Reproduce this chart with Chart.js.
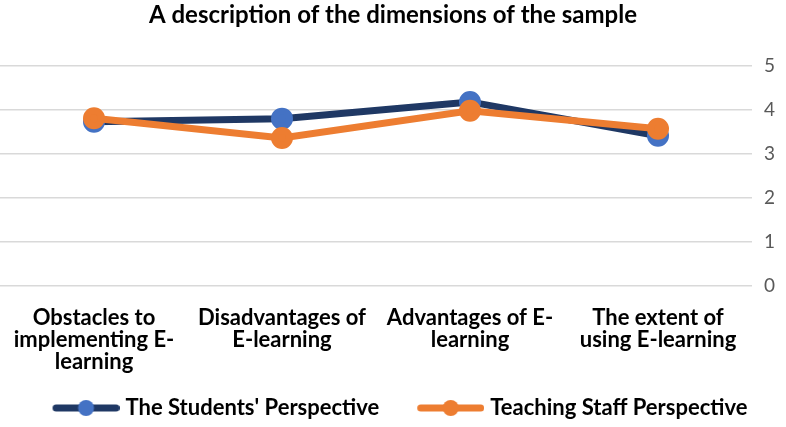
<!DOCTYPE html>
<html>
<head>
<meta charset="utf-8">
<script src="https://cdn.jsdelivr.net/npm/chart.js@4/dist/chart.umd.min.js"></script>
<style>
    html, body { margin: 0; padding: 0; background: #fff; }
    #wrap { width: 786px; height: 427px; position: relative; }
</style>
</head>
<body>
<div id="wrap"><canvas id="chart"></canvas></div>
<script>
// Data
const categories = [
    ['Obstacles to', 'implementing E-', 'learning'],
    ['Disadvantages of', 'E-learning'],
    ['Advantages of E-', 'learning'],
    ['The extent of', 'using E-learning']
];
const studentsValues = [3.73, 3.8, 4.18, 3.41];
const staffValues = [3.81, 3.36, 3.98, 3.57];
const yTicks = [0, 1, 2, 3, 4, 5];

const NAVY = '#1f3864';
const BLUE = '#4472c4';
const ORANGE = '#ed7d31';

// legend marker: thick line with a dot in the middle (blank lead-in keeps the items apart)
const MARK_W = 76;
function legendMarker(lineColor, dotColor) {
    const c = document.createElement('canvas');
    c.width = MARK_W + 10; c.height = 18;
    const g = c.getContext('2d');
    g.strokeStyle = lineColor;
    g.lineWidth = 7;
    g.lineCap = 'round';
    g.beginPath();
    g.moveTo(19 + 3.5, 9);
    g.lineTo(MARK_W + 10 - 3.5, 9);
    g.stroke();
    g.fillStyle = dotColor;
    g.beginPath();
    g.arc((19 + MARK_W + 10) / 2, 9, 8, 0, Math.PI * 2);
    g.fill();
    return c;
}
const markers = [legendMarker(NAVY, BLUE), legendMarker(ORANGE, ORANGE)];

const ctx = document.getElementById('chart').getContext('2d');
new Chart(ctx, {
    type: 'line',
    data: {
        labels: categories,
        datasets: [{
            label: "The Students' Perspective",
            data: studentsValues,
            borderColor: NAVY,
            backgroundColor: BLUE,
            pointBackgroundColor: BLUE,
            pointBorderColor: BLUE,
            borderWidth: 7,
            pointRadius: 7.5,
            tension: 0,
            order: 1
        }, {
            label: 'Teaching Staff Perspective',
            data: staffValues,
            borderColor: ORANGE,
            backgroundColor: ORANGE,
            pointBackgroundColor: ORANGE,
            pointBorderColor: ORANGE,
            borderWidth: 7,
            pointRadius: 7.5,
            tension: 0,
            order: 0
        }]
    },
    options: {
        responsive: true,
        maintainAspectRatio: false,
        animation: false,
        layout: { autoPadding: false, padding: { left: 0, right: 0, top: 0, bottom: -2 } },
        plugins: {
            title: {
                display: true,
                text: 'A description of the dimensions of the sample',
                color: '#000',
                font: { family: 'Lato', size: 24, weight: 'bold' },
                padding: { top: 1, bottom: 36 }
            },
            legend: {
                position: 'bottom',
                labels: {
                    usePointStyle: true,
                    pointStyleWidth: MARK_W,
                    padding: 24,
                    color: '#000',
                    font: { family: 'Lato', size: 22, weight: 'bold' },
                    generateLabels: (chart) => chart.data.datasets.map((ds, i) => ({
                        text: ds.label,
                        pointStyle: markers[i],
                        fillStyle: ds.backgroundColor,
                        strokeStyle: ds.borderColor,
                        lineWidth: 0,
                        hidden: false,
                        datasetIndex: i,
                        fontColor: '#000'
                    }))
                }
            },
            tooltip: { enabled: false }
        },
        scales: {
            x: {
                offset: true,
                grid: { display: false, drawTicks: false },
                border: { display: false },
                afterFit: (scale) => {
                    scale.paddingLeft = 0;
                    scale.paddingRight = 0;
                    scale.height = 87;
                },
                ticks: {
                    color: '#000',
                    maxRotation: 0,
                    autoSkip: false,
                    padding: 21,
                    font: { family: 'Lato', size: 22, weight: 'bold', lineHeight: 1.0 }
                }
            },
            y: {
                position: 'right',
                min: 0,
                max: 5,
                afterBuildTicks: (axis) => { axis.ticks = yTicks.map(v => ({ value: v })); },
                afterFit: (scale) => { scale.width = 34; },
                grid: { color: '#d9d9d9', lineWidth: 1.5, drawTicks: false },
                border: { display: false },
                ticks: {
                    color: '#595959',
                    padding: 12,
                    font: { family: 'Lato', size: 19 }
                }
            }
        }
    }
});
</script>
</body>
</html>
